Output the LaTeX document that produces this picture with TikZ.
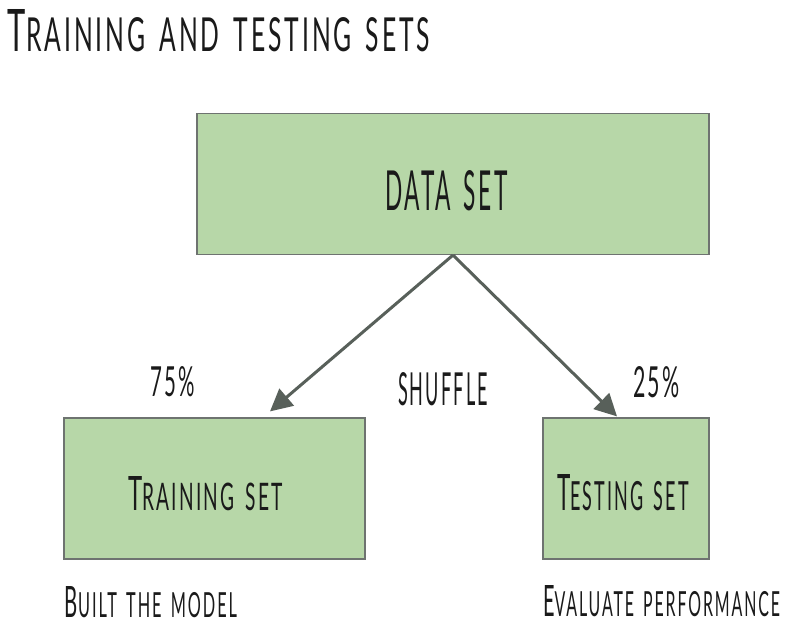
\documentclass[tikz,border=0pt]{standalone}
\usepackage{fontspec}
\usepackage{graphicx}
\newfontfamily\am[FakeStretch=0.42,LetterSpace=5,WordSpace=1.5]{Lato}
\usetikzlibrary{arrows.meta}
\definecolor{boxgreen}{HTML}{B7D7A8}
\definecolor{boxedge}{HTML}{6E7370}
\definecolor{arr}{HTML}{58605A}
\definecolor{ink}{HTML}{1A1A1A}
% fake small caps: first letter big, rest at 80%
\newcommand\amsc[2]{{\fontsize{40pt}{40pt}\selectfont#1}{\fontsize{32pt}{40pt}\selectfont#2}}
\newcommand\amup[1]{{\fontsize{40pt}{40pt}\selectfont#1}}
% fit text to a given width and height
\newcommand\fit[3]{\resizebox{#1pt}{#2pt}{#3}}
\begin{document}
\begin{tikzpicture}[x=1pt,y=-1pt,
  box/.style={draw=boxedge,fill=boxgreen,line width=1.2pt,inner sep=0pt},
  conn/.style={draw=arr,line width=3pt,-{Triangle[length=22pt,width=22pt]}},
  lbl/.style={text=ink,inner sep=0pt,font=\am}]
\useasboundingbox (0,0) rectangle (800,629);
\node[lbl] (title) at (219,31) {\fit{422}{42}{\amsc{T}{RAINING AND TESTING SETS}}};
\node[box,minimum width=512pt,minimum height=141pt] (data) at (453,184) {};
\node[lbl] (datat) at (446.5,191) {\fit{123}{40}{\amup{DATA SET}}};
\node[box,minimum width=301pt,minimum height=141pt] (train) at (214.5,488.5) {};
\node[lbl] (traint) at (205.5,494) {\fit{155}{34}{\amsc{T}{RAINING SET}}};
\node[box,minimum width=166pt,minimum height=141pt] (test) at (626,488.5) {};
\node[lbl] (testt) at (623,493) {\fit{132}{36}{\amsc{T}{ESTING SET}}};
\coordinate (trainin) at ([xshift=55.5pt,yshift=6pt]train.north);
\coordinate (testin) at ([xshift=-9pt,yshift=1pt]test.north);
\draw[conn] (data.south) -- (trainin);
\draw[conn] (data.south) -- (testin);
\node[lbl] (p75) at (172.5,382) {\fit{45}{30}{\amup{75\%}}};
\node[lbl] (shuf) at (443,389.5) {\fit{90}{33}{\amup{SHUFFLE}}};
\node[lbl] (p25) at (656.5,382.5) {\fit{47}{31}{\amup{25\%}}};
\node[lbl] (built) at (151,602.5) {\fit{172}{31}{\amsc{B}{UILT THE MODEL}}};
\node[lbl] (eval) at (661.5,601.5) {\fit{237}{31}{\amsc{E}{VALUATE PERFORMANCE}}};
\end{tikzpicture}
\end{document}
